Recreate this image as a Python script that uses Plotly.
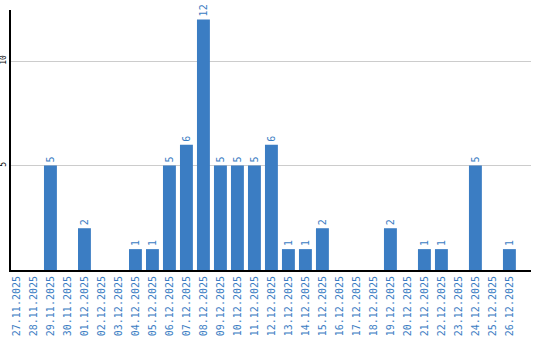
import plotly.graph_objects as go

dates = ["27.11.2025", "28.11.2025", "29.11.2025", "30.11.2025", "01.12.2025",
         "02.12.2025", "03.12.2025", "04.12.2025", "05.12.2025", "06.12.2025",
         "07.12.2025", "08.12.2025", "09.12.2025", "10.12.2025", "11.12.2025",
         "12.12.2025", "13.12.2025", "14.12.2025", "15.12.2025", "16.12.2025",
         "17.12.2025", "18.12.2025", "19.12.2025", "20.12.2025", "21.12.2025",
         "22.12.2025", "23.12.2025", "24.12.2025", "25.12.2025", "26.12.2025"]
counts = [0, 0, 5, 0, 2, 0, 0, 1, 1, 5, 6, 12, 5, 5, 5, 6, 1, 1, 2, 0,
          0, 0, 2, 0, 1, 1, 0, 5, 0, 1]
y_ticks = [5, 10]

BLUE = "#3b7dc3"
labels = [str(v) if v > 0 else "" for v in counts]

fig = go.Figure(go.Bar(
    x=list(range(len(dates))), y=counts, text=labels,
    textposition="outside", textangle=-90,
    textfont=dict(family="DejaVu Sans Mono", size=10, color=BLUE),
    marker=dict(color=BLUE, line=dict(width=0)),
    cliponaxis=False,
))

fig.update_layout(
    width=540, height=340,
    margin=dict(l=11, r=9, t=10, b=70),
    paper_bgcolor="white", plot_bgcolor="white",
    bargap=0.24, showlegend=False,
    xaxis=dict(
        range=[-0.32, 30.27], tickmode="array",
        tickvals=list(range(len(dates))), ticktext=dates,
        tickangle=-90, tickfont=dict(family="DejaVu Sans Mono", size=10, color=BLUE),
        showline=True, linecolor="black", linewidth=2,
        showgrid=False, ticks="", zeroline=False, automargin=False,
    ),
    yaxis=dict(
        range=[0, 12.45], tickvals=y_ticks, ticktext=[str(v) for v in y_ticks],
        tickangle=-90, tickfont=dict(family="DejaVu Sans Mono", size=8, color="black"),
        showline=True, linecolor="black", linewidth=2,
        showgrid=True, gridcolor="#cccccc", gridwidth=1,
        ticks="", zeroline=False, ticklabelstandoff=0, automargin=False,
    ),
)

fig.write_html("out.html")
